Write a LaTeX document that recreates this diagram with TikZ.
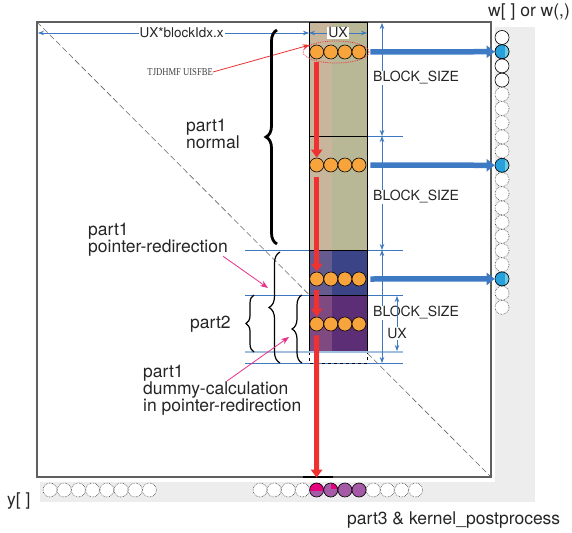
\documentclass[tikz,border=0pt]{standalone}
\usepackage{fontspec}
\usepackage{graphicx}
\setmainfont{TeX Gyre Heros}
\newfontfamily\smallserif{Liberation Serif}
\usetikzlibrary{arrows.meta,decorations.pathreplacing,shapes.geometric,calc}
\definecolor{shadowgray}{RGB}{236,237,236}
\definecolor{framegray}{RGB}{95,95,95}
\definecolor{olivecol}{RGB}{184,184,150}
\definecolor{navycol}{RGB}{58,68,134}
\definecolor{purplecol}{RGB}{92,46,118}
\definecolor{stripcol}{RGB}{255,175,175}
\definecolor{orangec}{RGB}{247,164,60}
\definecolor{redarr}{RGB}{238,50,50}
\definecolor{bluearr}{RGB}{62,122,196}
\definecolor{dimblue}{RGB}{62,120,190}
\definecolor{lightdim}{RGB}{160,190,222}
\definecolor{pinkarr}{RGB}{232,48,138}
\definecolor{wblue}{RGB}{40,160,220}
\definecolor{wbluelight}{RGB}{110,205,228}
\definecolor{ypurple}{RGB}{165,90,168}
\definecolor{ymagenta}{RGB}{230,0,126}
\tikzset{
  lbl/.style={font=\fontsize{17.5}{17}\selectfont, inner sep=0, text=black!85, align=left},
  dimlbl/.style={font=\fontsize{14}{16}\selectfont, inner sep=1pt, fill=white, text=black!85},
  cw/.style={circle, minimum size=14pt, inner sep=0, draw=black, line width=0.6pt, fill=white},
  cwd/.style={cw, draw=black!75, densely dotted},
  orb/.style={circle, minimum size=14pt, inner sep=0, draw=black, line width=0.6pt, fill=orangec},
  wbl/.style={cw, fill=wblue, path picture={\fill[wbluelight] ([xshift=3pt]path picture bounding box.north) rectangle (path picture bounding box.south east);}},
  dim/.style={draw=dimblue, line width=0.7pt},
  dimtip/.style={dim, {Stealth[length=6pt,width=4.5pt]}-{Stealth[length=6pt,width=4.5pt]}},
  redthick/.style={draw=redarr, line width=5pt, -{Triangle[length=8pt,width=11pt]}},
  bluethick/.style={draw=bluearr, line width=5.5pt, -{Triangle[length=8pt,width=12pt]}},
  pinkar/.style={draw=pinkarr, line width=0.8pt, -{Stealth[length=8pt,width=6pt]}},
  bracec/.style={decorate, decoration={brace, amplitude=#1}, draw=black, line width=1.2pt},
  diag/.style={draw=black!60, line width=0.6pt, dash pattern=on 6pt off 3pt}
}
\begin{document}
\begin{tikzpicture}[x=1pt,y=-1pt]
\useasboundingbox (0,0) rectangle (572,532);
% shadow and frame
\fill[shadowgray] (40,27) rectangle (535,502);
\fill[white] (37,22) rectangle (495,482);
\node[draw=framegray, line width=1.3pt, minimum width=454pt, minimum height=455pt, inner sep=0, outer sep=0, anchor=north west] (M) at (37,22) {};
\draw[diag] (M.north west) -- (M.south east);
% column fills
\fill[olivecol] (309,22) rectangle (367,250);
\fill[navycol] (309,250) rectangle (367,295);
\fill[purplecol] (309,295) rectangle (367,352);
\fill[stripcol, opacity=0.22] (310,22) rectangle (332,352);
% extension lines
\draw[dim] (309,136) -- (403,136);
\draw[dim] (245,250) -- (403,250);
\draw[dim] (245,295) -- (403,295);
\draw[dim] (245,363) -- (403,363);
% column borders
\draw[black, line width=0.7pt] (309,22) rectangle (367,352);
\draw[black, line width=0.7pt] (309,136) -- (367,136) (309,250) -- (367,250) (309,295) -- (367,295);
\draw[black, dashed, line width=0.7pt] (309,352) -- (309,363) -- (367,363) -- (367,352);
\draw[draw=lightdim, line width=2pt] (245,352) -- (403,352);
\draw[black, line width=2.5pt] (303,477) -- (333,477);
% dimensions
\coordinate (bx0) at (38,33);
\coordinate (bx1) at (309,33);
\coordinate (bx2) at (367,33);
\draw[dimtip] (bx0) -- node[dimlbl, pos=0.53, font=\fontsize{13.5}{15}\selectfont] (lbx) {UX*blockIdx.x} (bx1);
\draw[dimtip] (bx1) -- node[dimlbl] (lux) {UX} (bx2);
\coordinate (bs0) at (382,23);
\coordinate (bs1) at (382,136);
\coordinate (bs2) at (382,250);
\coordinate (bs3) at (382,363);
\draw[dimtip] (bs0) -- (bs1);
\draw[dimtip] (bs1) -- (bs2);
\draw[dimtip] (bs2) -- (bs3);
\node[dimlbl, anchor=west] (lbs1) at (372,78) {BLOCK\_SIZE};
\node[dimlbl, anchor=west] (lbs2) at (372,197) {BLOCK\_SIZE};
\node[dimlbl, anchor=west] (lbs3) at (372,313) {BLOCK\_SIZE};
\coordinate (ux0) at (397,296);
\coordinate (ux1) at (397,351);
\draw[dimtip] (ux0) -- node[dimlbl, pos=0.68] (luxv) {UX} (ux1);
% w circles
\foreach \k in {0,...,19}{
  \pgfmathsetmacro{\yy}{37.5+14.2*\k}
  \ifnum\k<4 \node[cw] (w\k) at (502,\yy) {};
  \else \node[cwd] (w\k) at (502,\yy) {}; \fi
}
\node[wbl] (wb1) at (w1) {};
\node[wbl] (wb9) at (w9) {};
\node[wbl] (wb17) at (w17) {};
% y circles
\foreach \i in {0,...,7}{
  \node[cwd] (yL\i) at ({50+14.2*\i},490) {};
}
\foreach \j in {0,...,11}{
  \node[cwd] (yR\j) at ({260+14.15*\j},490) {};
}
\node[cw, fill=ypurple, path picture={\fill[ymagenta] (path picture bounding box.north west) rectangle ([yshift=-1pt]path picture bounding box.east);}] (yp4) at (yR4) {};
\node[cw, fill=ypurple, path picture={\fill[ymagenta] (path picture bounding box.north) rectangle ([yshift=1pt]path picture bounding box.east);}] (yp5) at (yR5) {};
\node[cw, fill=ypurple] (yp6) at (yR6) {};
\node[cw, fill=ypurple] (yp7) at (yR7) {};
% orange circles
\foreach \r/\yy in {1/52,2/165,3/279,4/324}{
  \foreach \c/\xx in {1/316.7,2/330.8,3/344.9,4/359}{
    \node[orb] (o\r\c) at (\xx,\yy) {};
  }
}
% red arrows
\draw[redthick] ([yshift=-3pt]o11.south) -- (o21.north);
\draw[redthick] ([yshift=-5pt]o21.south) -- (o31.north);
\draw[redthick] ([yshift=-4pt]o31.south) -- (o41.north);
\draw[redthick] ([yshift=-4pt]o41.south) -- ([yshift=5pt]yp4.north);
% blue arrows
\draw[bluethick] ([xshift=4pt]o14.east) -- (wb1.west);
\draw[bluethick] ([xshift=4pt]o24.east) -- (wb9.west);
\draw[bluethick] ([xshift=4pt]o34.east) -- (wb17.west);
% ellipse and small label
\node[ellipse, draw=redarr, densely dotted, line width=0.8pt, minimum width=66pt, minimum height=22pt, inner sep=0] (ell) at (336,52) {};
\node[inner sep=0, anchor=east, text=black!75, font=\smallserif\fontsize{10.5}{11}\selectfont] (st) at (213,72) {\scalebox{0.82}[1]{TJDHMF UISFBE}};
\draw[draw=redarr, line width=0.8pt, -{Stealth[length=7pt,width=5pt]}] (st.east) -- (ell.165);
% braces
\draw[bracec=11, line width=2.8pt] (277,244) -- (277,30);
\draw[bracec=11] (280,363) -- (280,252);
\draw[bracec=8] (254,352) -- (254,295);
\draw[bracec=10] (302,363) -- (302,295);
% labels
\node[lbl, anchor=north west] (lnormal) at (186,118.6) {part1\\normal};
\node[lbl, anchor=north west] (lpr) at (88,222.6) {part1\\pointer-redirection};
\node[lbl, anchor=base west] (lp2) at (190,328) {part2};
\node[lbl, anchor=north west] (ldc) at (143,364.6) {part1\\dummy-calculation\\in pointer-redirection};
\node[lbl, anchor=base west] (lw) at (488,17) {w[ ] or w(,)};
\node[lbl, anchor=base west] (ly) at (7,505) {y[ ]};
\node[lbl, anchor=base west] (lp3) at (347,524) {part3 \& kernel\_postprocess};
% pink arrows
\coordinate (pk1e) at (268,288);
\coordinate (pk2s) at (227,381);
\coordinate (pk2e) at (289,337);
\draw[pinkar] ([xshift=-5pt]lpr.south east) -- (pk1e);
\draw[pinkar] (pk2s) -- (pk2e);
\end{tikzpicture}
\end{document}
